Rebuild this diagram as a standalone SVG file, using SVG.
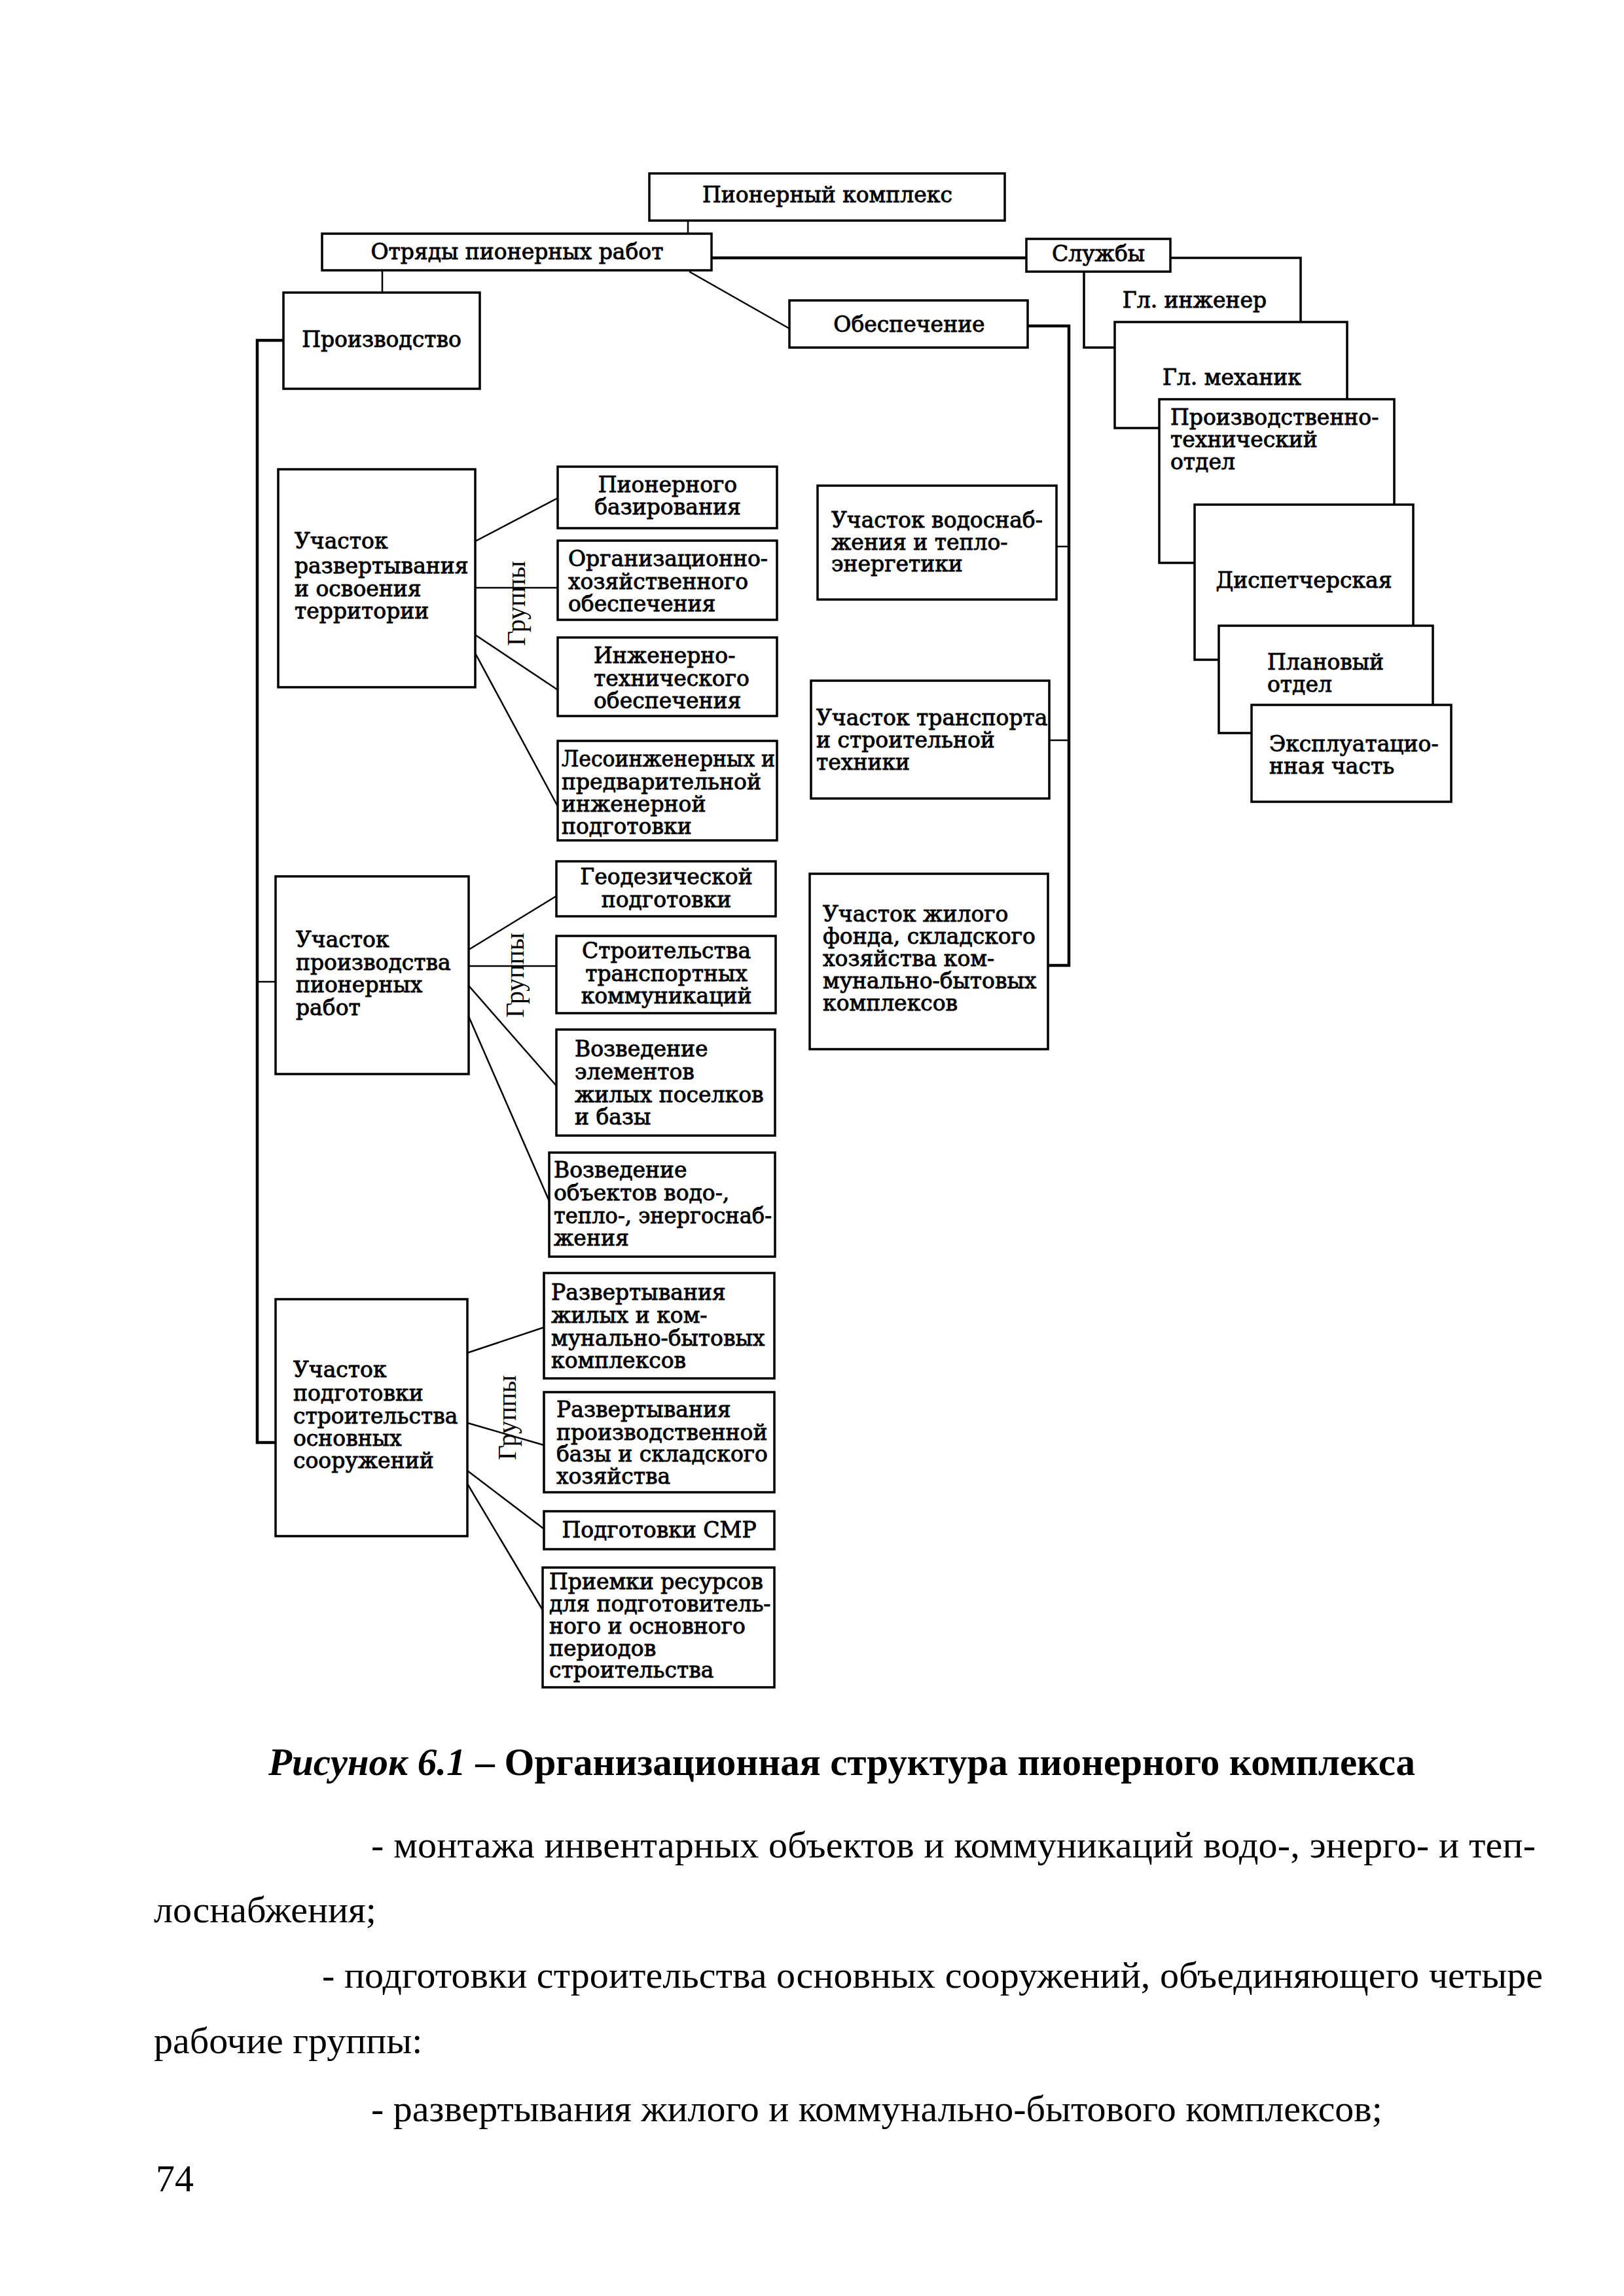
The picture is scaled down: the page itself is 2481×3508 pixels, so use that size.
<svg xmlns="http://www.w3.org/2000/svg" width="2481" height="3508" viewBox="0 0 2481 3508">
<style>
.box{fill:#fff;stroke:#000;stroke-width:3.5}
.ln{fill:none;stroke:#000;stroke-width:2.5}
.thk{stroke-width:4.5}
.t{font-family:"DejaVu Serif","Liberation Serif",serif;font-size:33px;fill:#000;stroke:#000;stroke-width:0.9}
.c{text-anchor:middle}
.grp{font-family:"Liberation Serif",serif;font-size:40px;fill:#000;text-anchor:middle}
.body{font-family:"Liberation Serif",serif;font-size:58px;fill:#000}
.cap{font-family:"Liberation Serif",serif;font-size:59px;font-weight:bold;fill:#000}
</style>
<rect width="2481" height="3508" fill="#fff"/>

<g id="connectors">
<line class="ln" x1="1051" y1="337" x2="1051" y2="357"/>
<line class="ln thk" x1="1087" y1="394" x2="1568" y2="394"/>
<line class="ln" x1="584" y1="413" x2="584" y2="447"/>
<line class="ln" x1="1053" y1="415" x2="1206" y2="502"/>
<polyline class="ln thk" points="1570,498 1633,498 1633,1475 1601,1475"/>
<line class="ln" x1="1614" y1="835" x2="1633" y2="835"/>
<line class="ln" x1="1603" y1="1131" x2="1633" y2="1131"/>
<polyline class="ln thk" points="433,520 393,520 393,2204 421,2204"/>
<line class="ln" x1="393" y1="1500" x2="421" y2="1500"/>
<line class="ln" x1="726" y1="827" x2="852" y2="761"/>
<line class="ln" x1="726" y1="898" x2="852" y2="898"/>
<line class="ln" x1="726" y1="970" x2="852" y2="1054"/>
<line class="ln" x1="726" y1="998" x2="852" y2="1232"/>
<line class="ln" x1="716" y1="1451" x2="850" y2="1369"/>
<line class="ln" x1="716" y1="1476" x2="850" y2="1476"/>
<line class="ln" x1="716" y1="1506" x2="850" y2="1659"/>
<line class="ln" x1="716" y1="1553" x2="839" y2="1835"/>
<line class="ln" x1="714" y1="2067" x2="831" y2="2028"/>
<line class="ln" x1="714" y1="2174" x2="831" y2="2208"/>
<line class="ln" x1="714" y1="2247" x2="831" y2="2336"/>
<line class="ln" x1="714" y1="2267" x2="829" y2="2460"/>
</g>

<g id="n-pioneer-complex"><rect class="box" x="992" y="265" width="543" height="72"/><text class="t c" x="1264" y="309">Пионерный комплекс</text></g>
<g id="n-otryady"><rect class="box" x="492" y="357" width="595" height="56"/><text class="t c" x="790" y="396">Отряды пионерных работ</text></g>
<g id="n-gl-inzhener"><rect class="box" x="1656" y="394" width="331" height="137"/><text class="t c" x="1825" y="470">Гл. инженер</text></g>
<g id="n-sluzhby"><rect class="box" x="1568" y="365" width="220" height="50"/><text class="t c" x="1678" y="399">Службы</text></g>
<g id="n-gl-mekhanik"><rect class="box" x="1703" y="492" width="355" height="162"/><text class="t c" x="1882" y="588">Гл. механик</text></g>
<g id="n-pto"><rect class="box" x="1771" y="610" width="359" height="250"/><text class="t" x="1788" y="649">Производственно-</text><text class="t" x="1788" y="683">технический</text><text class="t" x="1788" y="717">отдел</text></g>
<g id="n-dispetcherskaya"><rect class="box" x="1825" y="771" width="334" height="237"/><text class="t c" x="1992" y="898">Диспетчерская</text></g>
<g id="n-planovy"><rect class="box" x="1862" y="956" width="327" height="164"/><text class="t" x="1936" y="1023">Плановый</text><text class="t" x="1936" y="1057">отдел</text></g>
<g id="n-ekspluatac"><rect class="box" x="1912" y="1077" width="305" height="148"/><text class="t" x="1939" y="1148">Эксплуатацио-</text><text class="t" x="1939" y="1182">нная часть</text></g>

<g id="n-proizvodstvo"><rect class="box" x="433" y="447" width="300" height="147"/><text class="t c" x="583" y="530">Производство</text></g>
<g id="n-obespechenie"><rect class="box" x="1206" y="459" width="364" height="72"/><text class="t c" x="1389" y="507">Обеспечение</text></g>

<g id="n-vodosnab"><rect class="box" x="1249" y="742" width="365" height="174"/><text class="t" x="1270" y="806">Участок водоснаб-</text><text class="t" x="1270" y="840">жения и тепло-</text><text class="t" x="1270" y="873">энергетики</text></g>
<g id="n-transport"><rect class="box" x="1239" y="1040" width="364" height="180"/><text class="t" x="1247" y="1108">Участок транспорта</text><text class="t" x="1247" y="1142">и строительной</text><text class="t" x="1247" y="1176">техники</text></g>
<g id="n-zhilfond"><rect class="box" x="1237" y="1335" width="364" height="268"/><text class="t" x="1257" y="1408">Участок жилого</text><text class="t" x="1257" y="1442">фонда, складского</text><text class="t" x="1257" y="1476">хозяйства ком-</text><text class="t" x="1257" y="1510">мунально-бытовых</text><text class="t" x="1257" y="1544">комплексов</text></g>

<g id="n-razvert"><rect class="box" x="425" y="717" width="301" height="333"/><text class="t" x="450" y="838">Участок</text><text class="t" x="450" y="876">развертывания</text><text class="t" x="450" y="911">и освоения</text><text class="t" x="450" y="945">территории</text></g>
<g id="n-pion-baz"><rect class="box" x="852" y="713" width="335" height="94"/><text class="t c" x="1020" y="752">Пионерного</text><text class="t c" x="1020" y="786">базирования</text></g>
<g id="n-org-hoz"><rect class="box" x="852" y="826" width="335" height="121"/><text class="t" x="868" y="865">Организационно-</text><text class="t" x="868" y="900">хозяйственного</text><text class="t" x="868" y="934">обеспечения</text></g>
<g id="n-inzh-tekh"><rect class="box" x="852" y="974" width="335" height="120"/><text class="t" x="907" y="1013">Инженерно-</text><text class="t" x="907" y="1048">технического</text><text class="t" x="907" y="1082">обеспечения</text></g>
<g id="n-lesoinzh"><rect class="box" x="852" y="1132" width="335" height="152"/><text class="t" x="858" y="1171" textLength="326" lengthAdjust="spacingAndGlyphs">Лесоинженерных и</text><text class="t" x="858" y="1206">предварительной</text><text class="t" x="858" y="1240">инженерной</text><text class="t" x="858" y="1274">подготовки</text></g>
<g id="grp-1"><text class="grp" transform="translate(802,922) rotate(-90)">Группы</text></g>

<g id="n-proizv-pion"><rect class="box" x="421" y="1339" width="295" height="302"/><text class="t" x="452" y="1447">Участок</text><text class="t" x="452" y="1482">производства</text><text class="t" x="452" y="1516">пионерных</text><text class="t" x="452" y="1551">работ</text></g>
<g id="n-geodez"><rect class="box" x="850" y="1316" width="335" height="84"/><text class="t c" x="1018" y="1351">Геодезической</text><text class="t c" x="1018" y="1386">подготовки</text></g>
<g id="n-stroit-transp"><rect class="box" x="850" y="1430" width="335" height="118"/><text class="t c" x="1018" y="1464">Строительства</text><text class="t c" x="1018" y="1499">транспортных</text><text class="t c" x="1018" y="1533">коммуникаций</text></g>
<g id="n-vozv-elem"><rect class="box" x="850" y="1573" width="334" height="162"/><text class="t" x="878" y="1614">Возведение</text><text class="t" x="878" y="1649">элементов</text><text class="t" x="878" y="1684">жилых поселков</text><text class="t" x="878" y="1718">и базы</text></g>
<g id="n-vozv-obj"><rect class="box" x="839" y="1761" width="345" height="159"/><text class="t" x="846" y="1799">Возведение</text><text class="t" x="846" y="1834">объектов водо-,</text><text class="t" x="846" y="1869" textLength="333" lengthAdjust="spacingAndGlyphs">тепло-, энергоснаб-</text><text class="t" x="846" y="1903">жения</text></g>
<g id="grp-2"><text class="grp" transform="translate(800,1490) rotate(-90)">Группы</text></g>

<g id="n-podg-stroit"><rect class="box" x="421" y="1985" width="293" height="362"/><text class="t" x="448" y="2104">Участок</text><text class="t" x="448" y="2140">подготовки</text><text class="t" x="448" y="2175">строительства</text><text class="t" x="448" y="2209">основных</text><text class="t" x="448" y="2243">сооружений</text></g>
<g id="n-razv-zhil"><rect class="box" x="831" y="1945" width="352" height="161"/><text class="t" x="842" y="1986">Развертывания</text><text class="t" x="842" y="2021">жилых и ком-</text><text class="t" x="842" y="2056">мунально-бытовых</text><text class="t" x="842" y="2090">комплексов</text></g>
<g id="n-razv-proizv"><rect class="box" x="831" y="2127" width="352" height="153"/><text class="t" x="850" y="2165">Развертывания</text><text class="t" x="850" y="2200">производственной</text><text class="t" x="850" y="2233">базы и складского</text><text class="t" x="850" y="2267">хозяйства</text></g>
<g id="n-smr"><rect class="box" x="831" y="2309" width="352" height="58"/><text class="t c" x="1007" y="2349">Подготовки СМР</text></g>
<g id="n-priemki"><rect class="box" x="829" y="2395" width="354" height="183"/><text class="t" x="839" y="2428">Приемки ресурсов</text><text class="t" x="839" y="2462">для подготовитель-</text><text class="t" x="839" y="2496">ного и основного</text><text class="t" x="839" y="2530">периодов</text><text class="t" x="839" y="2563">строительства</text></g>
<g id="grp-3"><text class="grp" transform="translate(788,2166) rotate(-90)">Группы</text></g>

<text class="cap" x="410" y="2712"><tspan font-style="italic">Рисунок 6.1</tspan> – Организационная структура пионерного комплекса</text>
<text class="body" x="567" y="2838" textLength="1779" lengthAdjust="spacing">- монтажа инвентарных объектов и коммуникаций  водо-, энерго- и теп-</text>
<text class="body" x="235" y="2937">лоснабжения;</text>
<text class="body" x="492" y="3037" textLength="1865" lengthAdjust="spacing">- подготовки строительства основных сооружений, объединяющего четыре</text>
<text class="body" x="235" y="3137">рабочие группы:</text>
<text class="body" x="567" y="3241">- развертывания жилого и коммунально-бытового комплексов;</text>
<text class="body" x="238" y="3348" font-size="50">74</text>
</svg>
